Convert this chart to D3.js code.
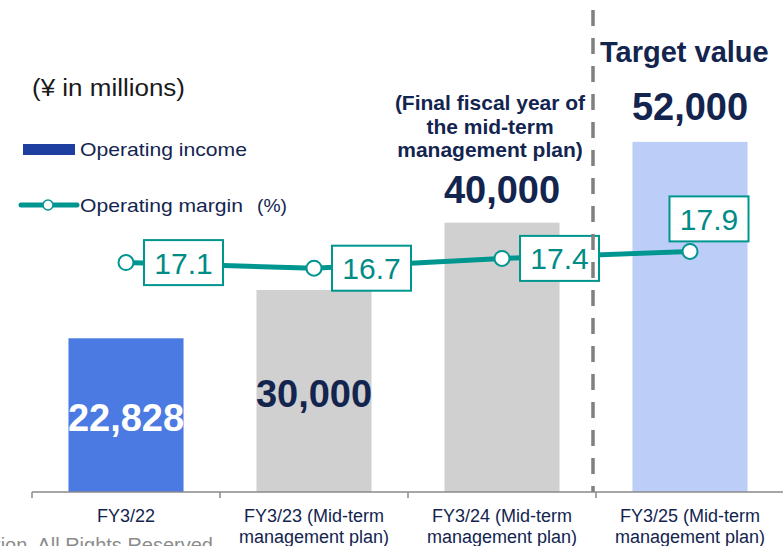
<!DOCTYPE html>
<html>
<head>
<meta charset="utf-8">
<script src="https://cdn.jsdelivr.net/npm/d3@7"></script>
<style>
  html, body { margin: 0; padding: 0; background: #ffffff; }
  svg { display: block; font-family: Arial, "Liberation Sans", sans-serif; }
</style>
</head>
<body>
<svg id="chart" width="783" height="546"></svg>
<script>
// ---- data ----
const categories = ["FY3/22", "FY3/23", "FY3/24", "FY3/25"];
const categoryLine1 = ["FY3/22", "FY3/23 (Mid-term", "FY3/24 (Mid-term", "FY3/25 (Mid-term"];
const categoryLine2 = ["", "management plan)", "management plan)", "management plan)"];
const operatingIncome = [22828, 30000, 40000, 52000];
const operatingMargin = [17.1, 16.7, 17.4, 17.9];
const incomeLabels = ["22,828", "30,000", "40,000", "52,000"];
const marginLabels = ["17.1", "16.7", "17.4", "17.9"];
const annotationLines = ["(Final fiscal year of", "the mid-term", "management plan)"];

// ---- styling ----
const barColors = ["#4a7ae2", "#d0d0d0", "#d0d0d0", "#bccdf8"];
const teal = "#009690";
const navy = "#13254f";

const svg = d3.select("#chart");

const xOuter = d3.scaleBand().domain(categories).range([32, 784]).padding(0);
const xBar = d3.scaleBand().domain(categories).range([32, 784]).paddingInner(0.388).paddingOuter(0.194);
const y = d3.scaleLinear().domain([0, 60000]).range([492, 88]);
const yM = d3.scaleLinear().domain([15, 20]).range([292, 222]);
const cx = c => xOuter(c) + xOuter.bandwidth() / 2;

// bars
svg.append("g").selectAll("rect").data(categories).join("rect")
  .attr("x", c => xBar(c))
  .attr("y", (c, i) => y(operatingIncome[i]))
  .attr("width", xBar.bandwidth())
  .attr("height", (c, i) => y(0) - y(operatingIncome[i]))
  .attr("fill", (c, i) => barColors[i]);

// axis
const axisG = svg.append("g");
axisG.append("line")
  .attr("x1", xOuter.range()[0]).attr("x2", 783)
  .attr("y1", y(0)).attr("y2", y(0))
  .attr("stroke", "#8a8a8a").attr("stroke-width", 1.5);
axisG.selectAll("line.tick").data(categories).join("line").attr("class", "tick")
  .attr("x1", c => xOuter(c)).attr("x2", c => xOuter(c))
  .attr("y1", y(0)).attr("y2", y(0) + 6)
  .attr("stroke", "#8a8a8a").attr("stroke-width", 1.5);

// category labels
const catG = svg.append("g").attr("fill", navy).attr("font-size", 18).attr("text-anchor", "middle");
catG.selectAll("text.l1").data(categories).join("text").attr("class", "l1")
  .attr("x", c => cx(c)).attr("y", 522).text((c, i) => categoryLine1[i]);
catG.selectAll("text.l2").data(categories).join("text").attr("class", "l2")
  .attr("x", c => cx(c)).attr("y", 543).text((c, i) => categoryLine2[i]);

// margin line
const line = d3.line().x(d => cx(d.c)).y(d => yM(d.v));
const mData = categories.map((c, i) => ({ c, v: operatingMargin[i], label: marginLabels[i], i }));
svg.append("path").datum(mData)
  .attr("d", line).attr("fill", "none")
  .attr("stroke", teal).attr("stroke-width", 5);

svg.append("g").selectAll("circle").data(mData).join("circle")
  .attr("cx", d => cx(d.c)).attr("cy", d => yM(d.v)).attr("r", 7.5)
  .attr("fill", "#fff").attr("stroke", teal).attr("stroke-width", 2);

// margin labels
const boxW = 79, boxH = 45;
const lab = svg.append("g").selectAll("g").data(mData).join("g")
  .attr("transform", d => {
    const px = cx(d.c), py = yM(d.v);
    if (d.i < 3) return `translate(${px + 18},${py - boxH / 2})`;
    return `translate(${px + 19 - boxW / 2},${py - 10 - boxH})`;
  });
lab.append("rect").attr("width", boxW).attr("height", boxH)
  .attr("fill", "#fff").attr("stroke", teal).attr("stroke-width", 2);
lab.append("text").attr("x", boxW / 2).attr("y", boxH / 2 + 11)
  .attr("text-anchor", "middle").attr("font-size", 30).attr("fill", "#008c86")
  .text(d => d.label);

// dashed divider
svg.append("line")
  .attr("x1", xOuter(categories[3]) - 3).attr("x2", xOuter(categories[3]) - 3)
  .attr("y1", 10).attr("y2", y(0))
  .attr("stroke", "#808080").attr("stroke-width", 3.5)
  .attr("stroke-dasharray", "16,12");

// income value labels
const valBase = [431, 407, 203, 120];
const valColor = ["#ffffff", navy, navy, navy];
svg.append("g").selectAll("text").data(categories).join("text")
  .attr("x", c => cx(c)).attr("y", (c, i) => valBase[i])
  .attr("text-anchor", "middle").attr("font-size", 38).attr("font-weight", "bold")
  .attr("fill", (c, i) => valColor[i])
  .text((c, i) => incomeLabels[i]);

// annotation
svg.append("g").attr("fill", navy).attr("font-size", 21).attr("font-weight", "bold")
  .attr("text-anchor", "middle")
  .selectAll("text").data(annotationLines).join("text")
  .attr("x", 490).attr("y", (d, i) => 110 + i * 23.5).text(d => d);

svg.append("text").attr("x", 600).attr("y", 62)
  .attr("font-size", 29).attr("font-weight", "bold").attr("fill", navy)
  .text("Target value");

// unit + legend
svg.append("text").attr("x", 32).attr("y", 96).attr("font-size", 23).attr("fill", "#1a1a1a")
  .attr("textLength", 153).attr("lengthAdjust", "spacingAndGlyphs")
  .text("(¥ in millions)");

svg.append("rect").attr("x", 23).attr("y", 144).attr("width", 52).attr("height", 11).attr("fill", "#1f3fa0");
svg.append("text").attr("x", 80).attr("y", 156).attr("font-size", 19).attr("fill", navy)
  .attr("textLength", 167).attr("lengthAdjust", "spacingAndGlyphs")
  .text("Operating income");

svg.append("line").attr("x1", 21).attr("x2", 77).attr("y1", 205).attr("y2", 205)
  .attr("stroke", teal).attr("stroke-width", 5).attr("stroke-linecap", "round");
svg.append("circle").attr("cx", 48).attr("cy", 205).attr("r", 5)
  .attr("fill", "#fff").attr("stroke", teal).attr("stroke-width", 1.5);
svg.append("text").attr("x", 80).attr("y", 212).attr("font-size", 19).attr("fill", navy)
  .attr("textLength", 163).attr("lengthAdjust", "spacingAndGlyphs")
  .text("Operating margin");
svg.append("text").attr("x", 257).attr("y", 212).attr("font-size", 18).attr("fill", navy)
  .attr("textLength", 30).attr("lengthAdjust", "spacingAndGlyphs")
  .text("(%)");

// footer (clipped at the bottom edge, as in the source)
svg.append("text").attr("x", 213).attr("y", 552).attr("text-anchor", "end")
  .attr("font-size", 20).attr("fill", "#8c8c8c")
  .text("Corporation. All Rights Reserved");
</script>
</body>
</html>
